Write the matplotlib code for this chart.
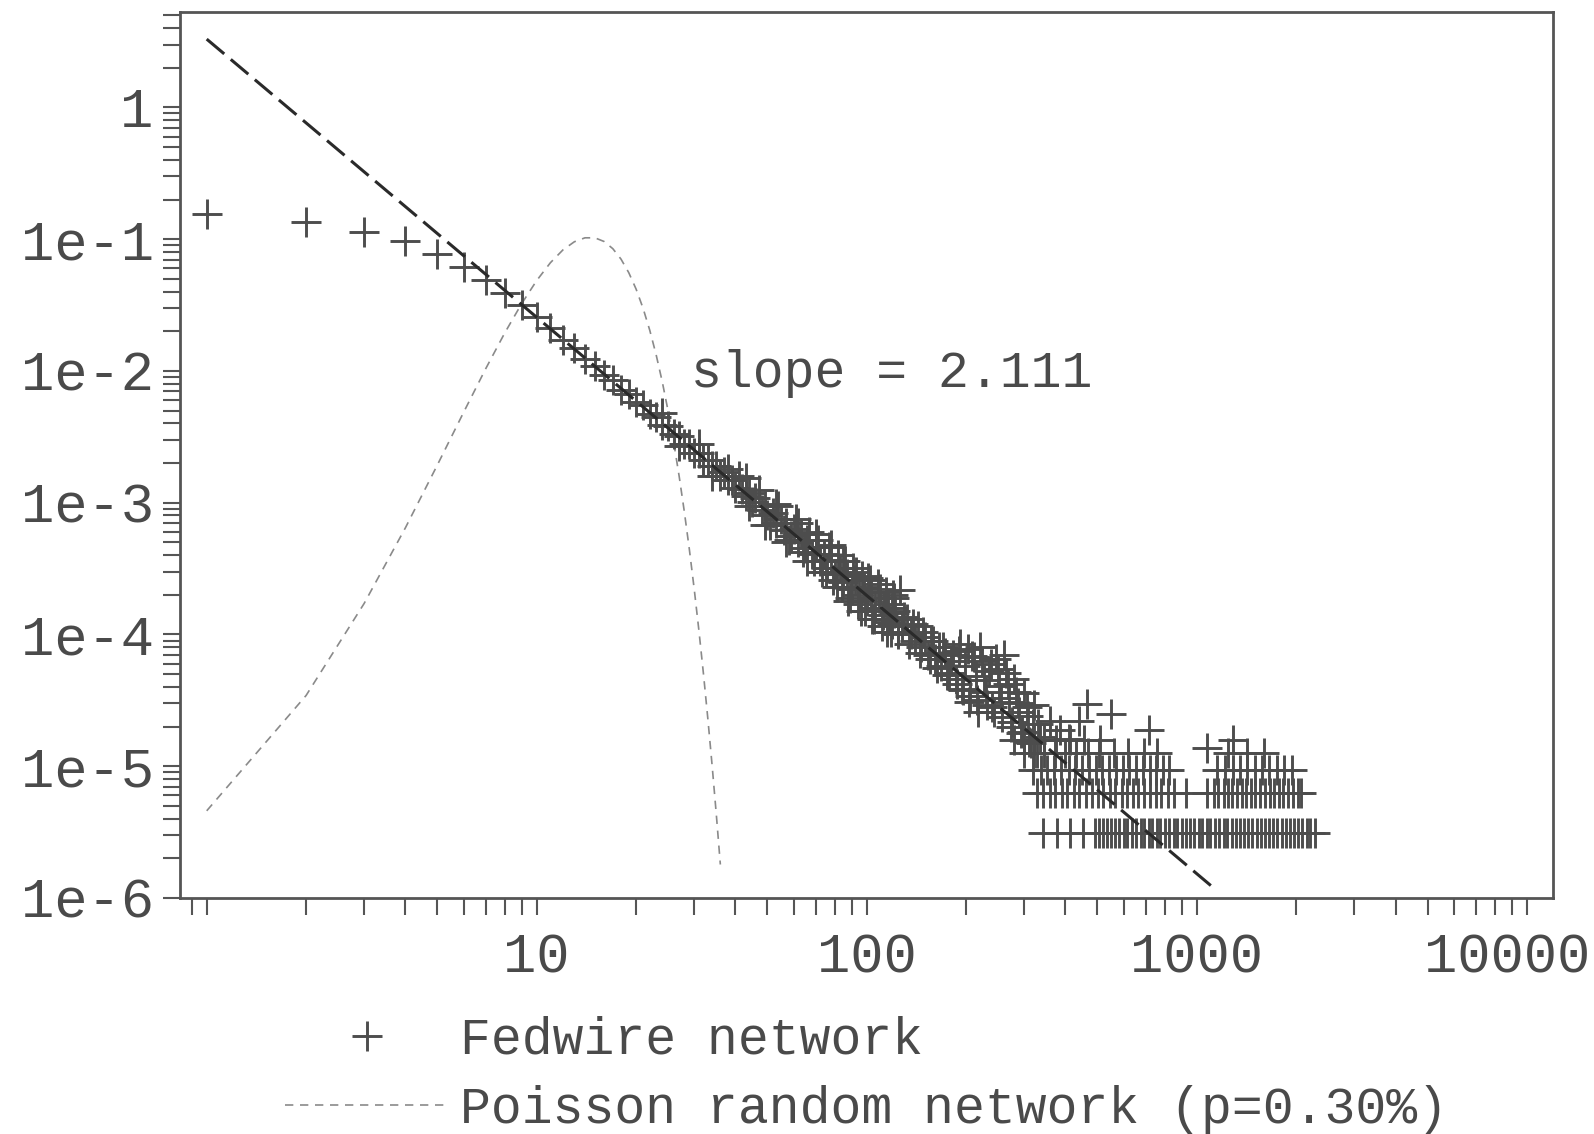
import numpy as np
import matplotlib.pyplot as plt
import matplotlib.transforms as mtransforms
from matplotlib.ticker import FixedLocator, FixedFormatter, LogLocator, NullFormatter

plt.rcParams['font.family'] = ['Liberation Mono', 'DejaVu Sans Mono']

INK = '#4a4a4a'
TICK_FONT = 40
TEXT_FONT = 37

# --- Fedwire degree distribution ---
head_k = [1, 2, 3, 4, 5, 6, 7, 8, 9]
head_p = [0.155, 0.135, 0.113, 0.0962, 0.0776, 0.0617, 0.049, 0.039, 0.0315]

body_k = [10, 11, 12, 13, 14, 15, 16, 17, 18, 19, 20, 21, 22, 23, 24, 25, 26, 27, 28, 29,
          30, 31, 32, 33, 34, 35, 36, 37, 38, 39, 40, 42, 43, 44, 45, 46, 48, 49, 50, 52,
          53, 55, 56, 57, 59, 60, 62, 63, 65, 66, 68, 70, 72, 74, 76, 78, 80, 83, 85, 87,
          90, 92, 95, 98, 100, 103, 106, 109, 112, 116, 119, 122]
body_p = [0.0256, 0.0212, 0.0171, 0.0150, 0.0124, 0.0110, 0.0093, 0.0085, 0.0072, 0.0067,
          0.0058, 0.0055, 0.0047, 0.0045, 0.0039, 0.0038, 0.0033, 0.0032, 0.0028, 0.0028,
          0.0024, 0.0024, 0.0021, 0.0021, 0.0019, 0.0019, 0.0016, 0.0017, 0.0015, 0.0015,
          0.0013, 0.00128, 0.00112, 0.00118, 0.00101, 0.00108, 0.00088, 0.00095, 0.00080, 0.00084,
          0.00070, 0.00075, 0.00062, 0.00070, 0.00056, 0.00063, 0.00050, 0.00058, 0.00045, 0.00052,
          0.00041, 0.00046, 0.00036, 0.00041, 0.00032, 0.00037, 0.00029, 0.00032, 0.00025, 0.00029,
          0.00022, 0.00026, 0.00020, 0.00023, 0.00018, 0.00021, 0.00016, 0.00019, 0.00014, 0.00017,
          0.00012, 0.00015]

spread_k = [24, 27, 31, 34, 38, 41, 44, 47, 51, 54, 58, 61, 64, 67, 69, 71, 75, 77, 79, 82,
            84, 86, 89, 91, 94, 97, 99, 102, 105, 108, 111, 114, 118, 121, 124,
            43, 49, 53, 57, 62, 66, 70, 73, 78, 81, 85, 88, 93, 96, 101, 104, 110, 115, 120]
spread_p = [0.0048, 0.0027, 0.0028, 0.0016, 0.0018, 0.0016, 0.00095, 0.00125, 0.00068, 0.00095,
            0.00052, 0.00075, 0.00042, 0.00060, 0.00036, 0.00052, 0.00030, 0.00046, 0.00026,
            0.00040, 0.00023, 0.00036, 0.00019, 0.00032, 0.00017, 0.00028, 0.00015, 0.00026,
            0.00013, 0.00024, 0.000115, 0.00021, 0.000105, 0.00019, 0.00010,
            0.00155, 0.00068, 0.00098, 0.00050, 0.00070, 0.00036, 0.00058, 0.00030, 0.00048,
            0.00023, 0.00036, 0.00018, 0.00030, 0.00015, 0.00027, 0.00013, 0.00022, 0.000105,
            0.00020]

upper_k = [113, 117, 121, 126, 128, 132, 136, 140, 143, 146, 150, 153, 157, 161, 165, 168,
           173, 177, 180, 186, 190, 194, 199, 204, 208, 214, 218, 223, 230, 235, 240, 246,
           252, 257, 265, 270, 276, 284, 290, 296, 305, 311, 318, 327, 334,
           360, 385, 410, 440]
upper_p = [1.6e-4, 1.3e-4, 1.45e-4, 2.18e-4, 1.15e-4, 1.3e-4, 1.0e-4, 9.0e-5, 1.15e-4,
           8.0e-5, 9.5e-5, 7.0e-5, 8.97e-5, 6.52e-5, 8.07e-5, 5.75e-5, 7.26e-5, 5.08e-5,
           6.29e-5, 4.57e-5, 7.52e-5, 3.83e-5, 5.75e-5, 3.09e-5, 6.89e-5, 4.82e-5, 2.59e-5,
           6.29e-5, 3.69e-5, 5.27e-5, 2.83e-5, 6.52e-5, 4.04e-5, 2.37e-5, 5.08e-5, 3.09e-5,
           2.17e-5, 3.69e-5, 2.59e-5, 1.82e-5, 2.83e-5, 1.52e-5, 2.09e-5, 1.27e-5, 1.66e-5,
           2.2e-5, 1.9e-5, 1.6e-5, 2.2e-5]

dense_k = [115, 119, 124, 130, 134, 138, 145, 148, 155, 159, 163, 170, 175, 183, 188, 192,
           196, 202, 206, 211, 216, 221, 226, 232, 238, 243, 249, 255, 260, 268, 273, 280,
           287, 293, 300, 308, 315, 322, 330]
dense_p = [1.25e-4, 1.6e-4, 1.05e-4, 1.35e-4, 8.5e-5, 1.2e-4, 7.2e-5, 1.05e-4, 6.5e-5, 9.0e-5,
           5.6e-5, 8.0e-5, 4.9e-5, 7.0e-5, 4.2e-5, 8.5e-5, 3.8e-5, 7.8e-5, 3.4e-5, 6.8e-5,
           3.2e-5, 8.0e-5, 4.5e-5, 2.9e-5, 6.0e-5, 2.6e-5, 5.5e-5, 3.3e-5, 7.0e-5, 4.2e-5,
           2.0e-5, 4.6e-5, 3.0e-5, 1.8e-5, 3.6e-5, 2.4e-5, 1.5e-5, 2.9e-5, 2.1e-5]

# tail: degrees seen only a few times sit on fixed levels
tail_levels = [3.13e-6, 6.3e-6, 9.4e-6, 1.25e-5, 1.57e-5]
tail1_x = [342, 377, 414, 451, 491, 507, 519, 536, 548, 566, 579, 601, 615, 637, 652, 676, 690,
           715, 731, 758, 775, 802, 822, 851, 870, 902, 925, 955, 979, 1012, 1038, 1073, 1100,
           1137, 1166, 1205, 1235, 1277, 1310, 1352, 1388, 1434, 1470, 1520, 1560, 1610, 1655,
           1706, 1752, 1808, 1858, 1916, 1968, 2031, 2085, 2153, 2210, 2285]
tail2_x = [327, 341, 358, 372, 390, 405, 424, 440, 462, 480, 502, 521, 546, 566, 592, 614, 640,
           665, 694, 720, 752, 781, 815, 850, 929, 1071, 1130, 1162, 1205, 1240, 1282, 1320,
           1366, 1410, 1458, 1502, 1557, 1606, 1663, 1712, 1775, 1830, 1893, 1955, 2020, 2074]
tail3_x = [318, 336, 352, 370, 388, 409, 428, 449, 470, 494, 517, 543, 568, 597, 624, 655, 686,
           720, 752, 790, 822, 1150, 1215, 1290, 1350, 1420, 1505, 1580, 1660, 1750, 1840, 1940]
tail4_x = [300, 322, 345, 372, 400, 430, 468, 505, 560, 620, 690, 760, 1240, 1420, 1600]
tail5_x = [280, 300, 320, 345, 375, 412, 455, 510, 1290]
extra_k = [466, 548, 716, 1071]
extra_p = [2.99e-5, 2.5e-5, 1.88e-5, 1.37e-5]

# --- Poisson random network (p=0.30%) ---
poisson_k = list(range(1, 37))
poisson_p = [4.589e-6, 3.441e-5, 1.721e-4, 6.453e-4, 1.936e-3, 4.840e-3, 1.037e-2, 1.944e-2,
             3.241e-2, 4.861e-2, 6.629e-2, 8.286e-2, 9.561e-2, 1.0244e-1, 1.0244e-1, 9.603e-2,
             8.474e-2, 7.061e-2, 5.575e-2, 4.181e-2, 2.986e-2, 2.036e-2, 1.328e-2, 8.300e-3,
             4.980e-3, 2.873e-3, 1.596e-3, 8.551e-4, 4.423e-4, 2.211e-4, 1.070e-4, 5.016e-5,
             2.280e-5, 1.006e-5, 4.311e-6, 1.796e-6]

# --- power law fit, slope 2.111 ---
fit_x = [1, 1130]
fit_y = [3.3, 1.18e-6]

ytick_vals = [1e-6, 1e-5, 1e-4, 1e-3, 1e-2, 1e-1, 1]
ytick_labels = ['1e-6', '1e-5', '1e-4', '1e-3', '1e-2', '1e-1', '1']
xtick_vals = [1, 10, 100, 1000, 10000]
xtick_labels = ['', '10', '100', '1000', '10000']

fed_x = head_k + body_k + spread_k + upper_k + dense_k + extra_k
fed_y = head_p + body_p + spread_p + upper_p + dense_p + extra_p
for lvl, xs in zip(tail_levels, [tail1_x, tail2_x, tail3_x, tail4_x, tail5_x]):
    fed_x = fed_x + xs
    fed_y = fed_y + [lvl] * len(xs)

fig = plt.figure(figsize=(15.94, 11.34), dpi=100)
ax = fig.add_axes([180 / 1594, 1 - 898 / 1134, (1553 - 180) / 1594, (898 - 12) / 1134])

ax.plot(fed_x, fed_y, linestyle='none', marker='+', markersize=21, mew=2.1,
        color='#4d4d4d', label='Fedwire network', zorder=3)
ax.plot(poisson_k, poisson_p, color='#8a8a8a', lw=1.2, dashes=(5, 4),
        label='Poisson random network (p=0.30%)', zorder=2)
ax.plot(fit_x, fit_y, color='#2a2a2a', lw=2.2, dashes=(7.5, 2.8), zorder=4)

ax.text(29.4, 0.0096, 'slope = 2.111', fontsize=TEXT_FONT, color=INK, ha='left', va='center')

ax.set_xscale('log')
ax.set_yscale('log')
ax.set_xlim(0.83, 12000)
ax.set_ylim(1e-6, 5.3)

ax.xaxis.set_major_locator(FixedLocator(xtick_vals))
ax.xaxis.set_major_formatter(FixedFormatter(xtick_labels))
ax.xaxis.set_minor_locator(LogLocator(base=10, subs=np.arange(2, 10), numticks=20))
ax.xaxis.set_minor_formatter(NullFormatter())
ax.yaxis.set_major_locator(FixedLocator(ytick_vals))
ax.yaxis.set_major_formatter(FixedFormatter(ytick_labels))
ax.yaxis.set_minor_locator(LogLocator(base=10, subs=np.arange(2, 10), numticks=20))
ax.yaxis.set_minor_formatter(NullFormatter())

ax.tick_params(which='both', direction='out', length=12, width=1.5, color='#555555',
               top=False, right=False)
ax.tick_params(axis='y', which='major', labelsize=TICK_FONT, labelcolor=INK, pad=7)
ax.tick_params(axis='x', which='major', labelsize=TICK_FONT, labelcolor=INK, pad=13)
for sp in ax.spines.values():
    sp.set_color('#555555')
    sp.set_linewidth(2)

# the last x label sits a little to the left so it stays inside the picture
last = ax.get_xticklabels()[-1]
last.set_transform(last.get_transform() + mtransforms.ScaledTranslation(-0.2, 0, fig.dpi_scale_trans))

leg = fig.legend(loc='upper left', bbox_to_anchor=(285 / 1594, 1 - 1016 / 1134),
                 frameon=False, fontsize=TEXT_FONT, handlelength=3.2, handletextpad=0.2,
                 labelspacing=0.38, borderpad=0, borderaxespad=0, numpoints=1)
for t in leg.get_texts():
    t.set_color(INK)

fig.savefig('out.png', dpi=100)
